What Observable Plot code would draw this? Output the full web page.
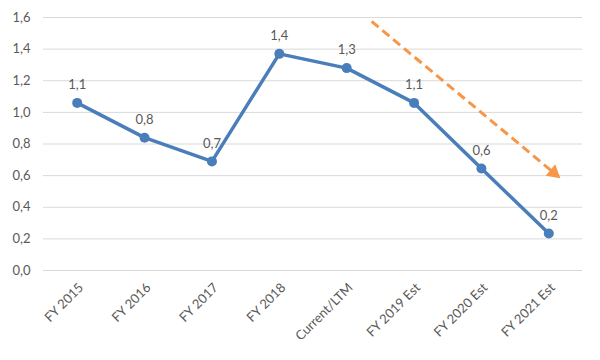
<!DOCTYPE html>
<html><head><meta charset="utf-8">
<script src="https://cdn.jsdelivr.net/npm/d3@7"></script>
<script src="https://cdn.jsdelivr.net/npm/@observablehq/plot@0.6"></script>
<style>html,body{margin:0;padding:0;background:#fff}</style>
</head><body><div id="chart"></div>
<script>
const categories = ["FY 2015","FY 2016","FY 2017","FY 2018","Current/LTM","FY 2019 Est","FY 2020 Est","FY 2021 Est"];
const values = [1.06, 0.84, 0.69, 1.37, 1.28, 1.06, 0.645, 0.234];
const pointLabels = ["1,1","0,8","0,7","1,4","1,3","1,1","0,6","0,2"];
const yTicks = [0, 0.2, 0.4, 0.6, 0.8, 1.0, 1.2, 1.4, 1.6];
const trendStart = [4.37, 1.575];
const trendEnd = [7.14, 0.595];

const data = categories.map((c, i) => ({i, c, v: values[i], label: pointLabels[i]}));
const arrowData = [{x1: trendStart[0], y1: trendStart[1], x2: trendEnd[0], y2: trendEnd[1]}];
const fmt = d => d3.format(".1f")(d).replace(".", ",");
const grey = "#595959";
const font = "Lato, 'Liberation Sans', sans-serif";

const chart = Plot.plot({
  width: 600,
  height: 360,
  marginLeft: 43,
  marginRight: 18,
  marginTop: 17,
  marginBottom: 90,
  style: {fontFamily: font, fontSize: "13px", color: grey, background: "#fff"},
  x: {type: "linear", domain: [-0.5, 7.5]},
  y: {domain: [0, 1.6]},
  marks: [
    Plot.ruleY(yTicks, {stroke: "#d9d9d9", strokeWidth: 1}),
    Plot.axisY({ticks: yTicks, tickSize: 0, tickPadding: 13, tickFormat: fmt, label: null, fill: grey, fontSize: 13}),
    Plot.axisX({ticks: d3.range(categories.length), tickSize: 0, tickPadding: 15, dx: 4, tickRotate: -45,
      tickFormat: i => categories[i], label: null, fill: grey, fontSize: 13}),
    Plot.link(arrowData, {x1: "x1", y1: "y1", x2: "x2", y2: "y2", stroke: "#F79646", strokeWidth: 3, strokeDasharray: "9,5"}),
    Plot.dot([trendEnd], {x: d => d[0], y: d => d[1], symbol: "triangle", r: 5.5, fill: "#F79646", stroke: "none",
      rotate: 129.6, dx: -4.5, dy: -3.7}),
    Plot.line(data, {x: "i", y: "v", stroke: "#4A7EBB", strokeWidth: 3.5}),
    Plot.dot(data, {x: "i", y: "v", r: 5, fill: "#4A7EBB", stroke: "none"}),
    Plot.text(data, {x: "i", y: "v", text: "label", dy: -18, fill: grey, fontSize: 13})
  ]
});
document.getElementById("chart").appendChild(chart);
</script>
</body></html>
